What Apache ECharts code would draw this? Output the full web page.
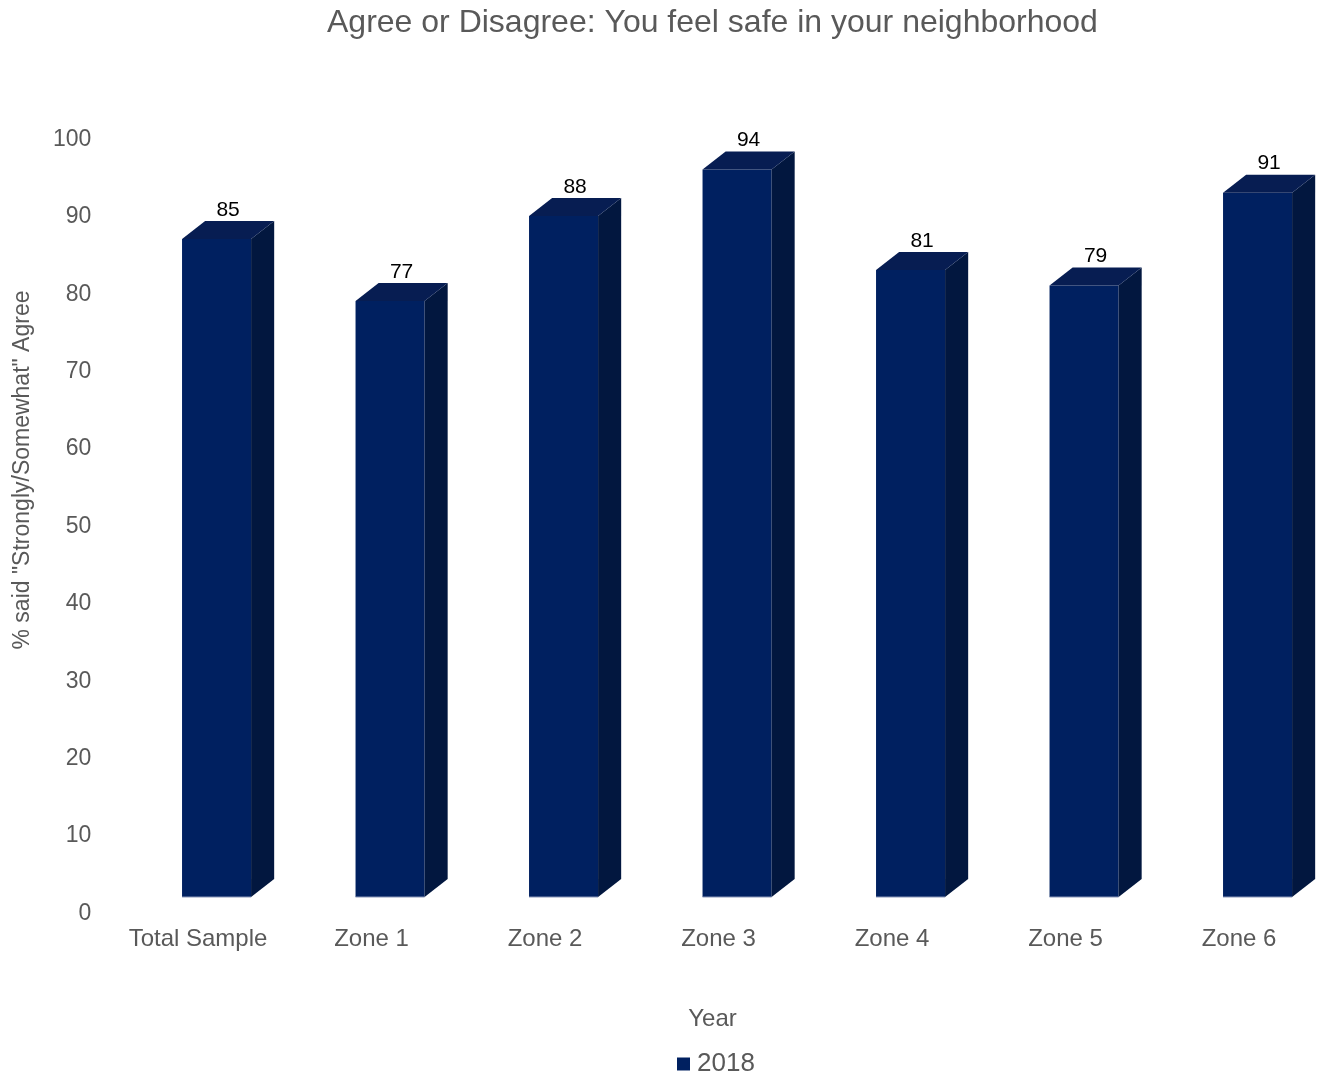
<!DOCTYPE html>
<html><head><meta charset="utf-8">
<script src="https://cdn.jsdelivr.net/npm/echarts@6/dist/echarts.min.js"></script>
<style>html,body{margin:0;padding:0;background:#fff}#c{width:1324px;height:1076px}</style>
</head><body><div id="c"></div>
<script>
var categories = ['Total Sample','Zone 1','Zone 2','Zone 3','Zone 4','Zone 5','Zone 6'];
var values2018 = [85, 77, 88, 94, 81, 79, 91];
var yTicks = {min:0, max:100, interval:10};

var FONT = '"Liberation Sans", Arial, sans-serif';
var chart = echarts.init(document.getElementById('c'));
var FRONT = '#002060', TOP = '#071d52', SIDE = '#02173f';
function renderBar(params, api){
  var idx = api.value(0), v = api.value(1);
  var c0 = api.coord([idx, 0]);
  var cv = api.coord([idx, v]);
  var bw = api.size([1, 0])[0];
  var lift = 14;
  var fw = bw * 0.398;
  var dx = bw * 0.133, dy = 18;
  var fl = c0[0] - bw*0.092;
  var fr = fl + fw;
  var fb = c0[1] - lift;
  var ft = cv[1] - lift;
  return {type:'group', children:[
    {type:'polygon', shape:{points:[[fl,fb],[fr,fb],[fr,ft],[fl,ft]]}, style:{fill:FRONT}},
    {type:'polygon', shape:{points:[[fr,fb],[fr+dx,fb-dy],[fr+dx,ft-dy],[fr,ft]]}, style:{fill:SIDE}},
    {type:'polygon', shape:{points:[[fl,ft],[fr,ft],[fr+dx,ft-dy],[fl+dx,ft-dy]]}, style:{fill:TOP}},
    {type:'line', shape:{x1:fl,y1:fb,x2:fr,y2:fb}, style:{stroke:'#8a96b8',lineWidth:1}},
    {type:'text', x:(fl+fr+dx)/2, y:ft-dy-11, style:{text:String(v), fill:'#000', font:'21px ' + FONT, align:'center', verticalAlign:'middle'}}
  ]};
}
chart.setOption({
  animation:false,
  textStyle:{fontFamily:FONT},
  title:{text:'Agree or Disagree: You feel safe in your neighborhood', left:322, top:2,
    textStyle:{fontSize:32, fontWeight:'normal', color:'#595959', fontFamily:FONT}},
  legend:{top:1051, left:677, padding:0, itemWidth:13, itemHeight:13, itemGap:8,
    data:[{name:'2018', icon:'rect'}],
    textStyle:{fontSize:26, color:'#595959', padding:[0,0,0,2]}},
  graphic:[{type:'text', x:23, y:470, rotation:Math.PI/2,
    style:{text:'% said "Strongly/Somewhat" Agree', fill:'#595959', font:'23px ' + FONT, align:'center', verticalAlign:'middle'}}],
  grid:{left:111.25, right:-1.75, top:137, bottom:165, containLabel:false, outerBoundsMode:'none'},
  xAxis:{type:'category', data:categories, name:'Year', nameLocation:'middle', nameGap:96,
    nameTextStyle:{fontSize:24, color:'#595959', padding:[0,12,0,0]},
    axisLine:{show:false}, axisTick:{show:false},
    axisLabel:{fontSize:24, color:'#595959', margin:16, interval:0}},
  yAxis:{type:'value', min:yTicks.min, max:yTicks.max, interval:yTicks.interval,
    splitLine:{show:false}, axisLine:{show:false}, axisTick:{show:false},
    axisLabel:{fontSize:23, color:'#595959', margin:20, verticalAlign:'top', lineHeight:5}},
  series:[{type:'custom', name:'2018', renderItem:renderBar, itemStyle:{color:FRONT},
    data: values2018.map(function(v,i){return [i,v];}), encode:{x:0,y:1}}]
});
</script></body></html>
